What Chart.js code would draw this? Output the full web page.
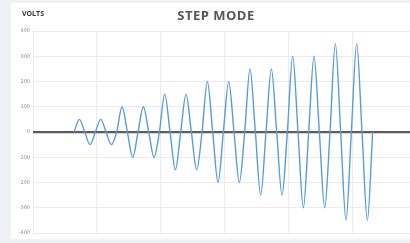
<!DOCTYPE html>
<html>
<head>
<meta charset="utf-8">
<script src="https://cdn.jsdelivr.net/npm/chart.js@4"></script>
<style>
  html, body { margin: 0; padding: 0; }
  body { width: 410px; height: 243px; background: #eff1f4; position: relative; overflow: hidden; font-family: "Open Sans", "DejaVu Sans", sans-serif; }
  #card { position: absolute; left: 11px; top: 3px; width: 399px; height: 236px; background: #fff; }
  #wrap { position: absolute; left: 0; top: 0; width: 399px; height: 236px; }
  #title { position: absolute; left: 0; width: 410px; top: 6px; text-align: center; font-size: 13px; font-weight: bold; color: #555; letter-spacing: 0.5px; padding-left: 22px; box-sizing: border-box; }
  #unit { position: absolute; left: 22px; top: 9px; font-size: 7px; font-weight: bold; color: #333; }
</style>
</head>
<body>
<div id="card"><div id="wrap"><canvas id="myChart"></canvas></div></div>
<div id="title">STEP MODE</div>
<div id="unit">VOLTS</div>
<script>
// sample times (one sample every quarter cycle)
const times = [
  7.7, 8.7, 9.7, 10.7, 11.7, 12.7, 13.7, 14.7, 15.7, 16.7,
  17.7, 18.7, 19.7, 20.7, 21.7, 22.7, 23.7, 24.7, 25.7, 26.7,
  27.7, 28.7, 29.7, 30.7, 31.7, 32.7, 33.7, 34.7, 35.7, 36.7,
  37.7, 38.7, 39.7, 40.7, 41.7, 42.7, 43.7, 44.7, 45.7, 46.7,
  47.7, 48.7, 49.7, 50.7, 51.7, 52.7, 53.7, 54.7, 55.7, 56.7,
  57.7, 58.7, 59.7, 60.7, 61.7, 62.7, 63.7
];
// volts: zero, peak, zero, trough for each cycle
const volts = [
  0, 50, 0, -50,   0, 50, 0, -50,
  0, 100, 0, -100, 0, 100, 0, -100,
  0, 150, 0, -150, 0, 150, 0, -150,
  0, 200, 0, -200, 0, 200, 0, -200,
  0, 250, 0, -250, 0, 250, 0, -250,
  0, 300, 0, -300, 0, 300, 0, -300,
  0, 350, 0, -350, 0, 350, 0, -350,
  0
];
const yTicks = [400, 300, 200, 100, 0, -100, -200, -300, -400];

const points = times.map((t, i) => ({ x: t, y: volts[i] }));

const ctx = document.getElementById('myChart').getContext('2d');
new Chart(ctx, {
    type: 'line',
    data: {
        datasets: [{
            label: 'Volts',
            data: points,
            borderColor: '#5b9bd5',
            borderWidth: 1.4,
            pointRadius: 0,
            fill: false,
            cubicInterpolationMode: 'monotone'
        }]
    },
    options: {
        responsive: true,
        maintainAspectRatio: false,
        animation: false,
        layout: { padding: { left: 0, top: 28, right: 0, bottom: 4 } },
        plugins: { legend: { display: false }, tooltip: { enabled: false } },
        scales: {
            x: {
                type: 'linear',
                min: 0,
                max: 70.7,
                ticks: { display: false, stepSize: 12 },
                grid: { color: '#ebebeb', lineWidth: 1, drawTicks: false },
                border: { display: false },
                afterFit: function (scale) { scale.height = 0; }
            },
            y: {
                min: -400,
                max: 400,
                afterBuildTicks: function (scale) {
                    scale.ticks = yTicks.map(v => ({ value: v }));
                },
                ticks: {
                    font: { size: 5, family: 'DejaVu Sans' },
                    color: '#8a8a8a',
                    padding: 3
                },
                grid: {
                    color: c => c.tick && c.tick.value === 0 ? '#5c5c5c' : '#ebebeb',
                    lineWidth: c => c.tick && c.tick.value === 0 ? 2.2 : 1,
                    drawTicks: false
                },
                border: { display: false },
                afterFit: function (scale) { scale.width = 22; }
            }
        }
    }
});
</script>
</body>
</html>
